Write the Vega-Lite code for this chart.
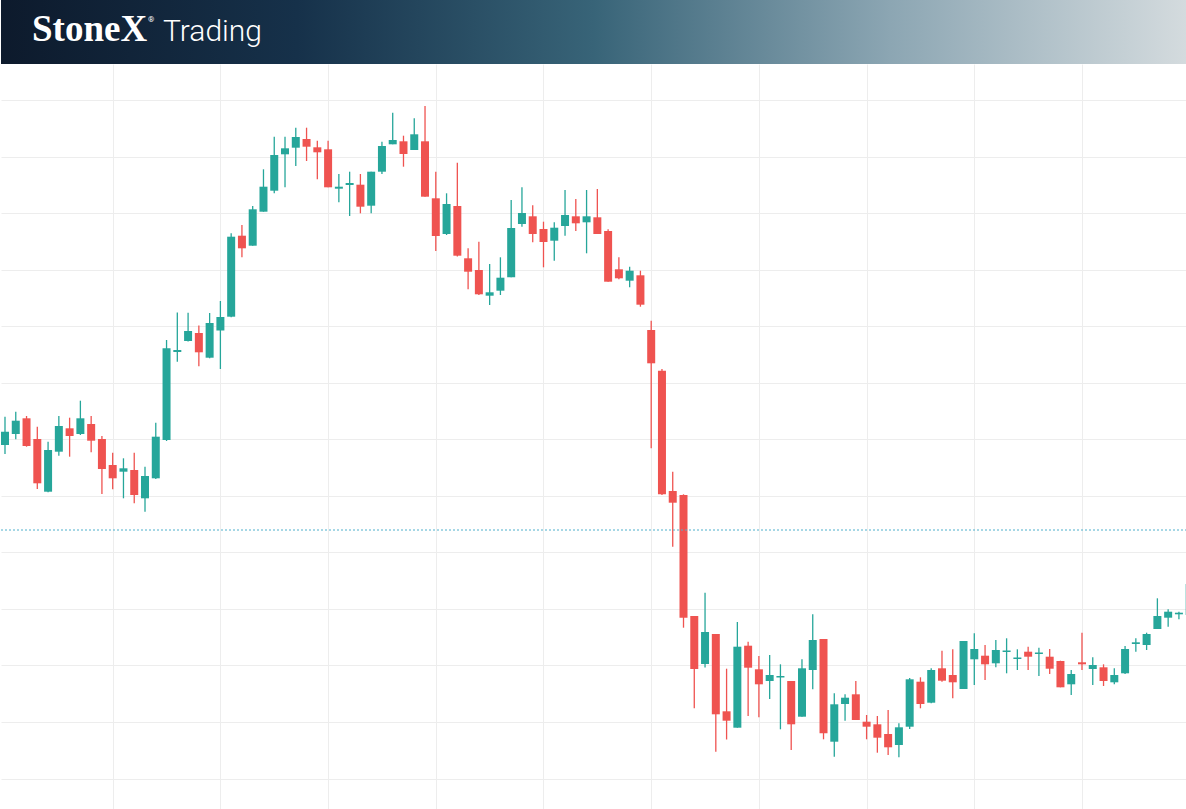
{
  "$schema": "https://vega.github.io/schema/vega-lite/v6.json",
  "padding": 0,
  "spacing": 0,
  "background": "#ffffff",
  "config": {
    "view": {"stroke": null},
    "axis": {"labels": false, "ticks": false, "domain": false, "title": null, "gridColor": "#ededed", "gridWidth": 1}
  },
  "datasets": {
    "candles": [
      {"idx": 0, "open": 1.0555, "high": 1.05833, "low": 1.0546, "close": 1.05683},
      {"idx": 1, "open": 1.0566, "high": 1.05883, "low": 1.05607, "close": 1.05793},
      {"idx": 2, "open": 1.05817, "high": 1.0584, "low": 1.05533, "close": 1.0554},
      {"idx": 3, "open": 1.0561, "high": 1.05733, "low": 1.0511, "close": 1.05167},
      {"idx": 4, "open": 1.05083, "high": 1.05583, "low": 1.05077, "close": 1.055},
      {"idx": 5, "open": 1.05483, "high": 1.0584, "low": 1.05443, "close": 1.0574},
      {"idx": 6, "open": 1.05717, "high": 1.05823, "low": 1.05433, "close": 1.0564},
      {"idx": 7, "open": 1.0566, "high": 1.05993, "low": 1.0565, "close": 1.05817},
      {"idx": 8, "open": 1.0576, "high": 1.0584, "low": 1.05477, "close": 1.05593},
      {"idx": 9, "open": 1.0561, "high": 1.0564, "low": 1.0506, "close": 1.0531},
      {"idx": 10, "open": 1.0535, "high": 1.05473, "low": 1.05107, "close": 1.05217},
      {"idx": 11, "open": 1.05283, "high": 1.05417, "low": 1.05017, "close": 1.05317},
      {"idx": 12, "open": 1.053, "high": 1.05473, "low": 1.04967, "close": 1.0505},
      {"idx": 13, "open": 1.05017, "high": 1.05333, "low": 1.04883, "close": 1.0524},
      {"idx": 14, "open": 1.05217, "high": 1.05773, "low": 1.0521, "close": 1.05633},
      {"idx": 15, "open": 1.056, "high": 1.066, "low": 1.0559, "close": 1.06517},
      {"idx": 16, "open": 1.0648, "high": 1.06875, "low": 1.06383, "close": 1.065},
      {"idx": 17, "open": 1.0659, "high": 1.06873, "low": 1.06585, "close": 1.0669},
      {"idx": 18, "open": 1.0667, "high": 1.06745, "low": 1.06337, "close": 1.06477},
      {"idx": 19, "open": 1.06423, "high": 1.0687, "low": 1.06417, "close": 1.0677},
      {"idx": 20, "open": 1.06695, "high": 1.0699, "low": 1.0631, "close": 1.0683},
      {"idx": 21, "open": 1.06833, "high": 1.07667, "low": 1.06827, "close": 1.07633},
      {"idx": 22, "open": 1.07643, "high": 1.0775, "low": 1.07427, "close": 1.07517},
      {"idx": 23, "open": 1.07543, "high": 1.0794, "low": 1.07543, "close": 1.07907},
      {"idx": 24, "open": 1.07883, "high": 1.08307, "low": 1.07883, "close": 1.08133},
      {"idx": 25, "open": 1.08093, "high": 1.08633, "low": 1.08067, "close": 1.0845},
      {"idx": 26, "open": 1.08457, "high": 1.08633, "low": 1.08127, "close": 1.08517},
      {"idx": 27, "open": 1.08523, "high": 1.08723, "low": 1.0834, "close": 1.0863},
      {"idx": 28, "open": 1.0861, "high": 1.08723, "low": 1.0839, "close": 1.08533},
      {"idx": 29, "open": 1.08527, "high": 1.08593, "low": 1.08207, "close": 1.08477},
      {"idx": 30, "open": 1.08507, "high": 1.08593, "low": 1.08127, "close": 1.08127},
      {"idx": 31, "open": 1.08113, "high": 1.0826, "low": 1.07977, "close": 1.08133},
      {"idx": 32, "open": 1.0815, "high": 1.08283, "low": 1.0784, "close": 1.0817},
      {"idx": 33, "open": 1.08153, "high": 1.0826, "low": 1.07867, "close": 1.07933},
      {"idx": 34, "open": 1.07943, "high": 1.08283, "low": 1.07867, "close": 1.08283},
      {"idx": 35, "open": 1.08283, "high": 1.08583, "low": 1.0826, "close": 1.0854},
      {"idx": 36, "open": 1.08557, "high": 1.08873, "low": 1.08557, "close": 1.086},
      {"idx": 37, "open": 1.08587, "high": 1.08643, "low": 1.08333, "close": 1.0846},
      {"idx": 38, "open": 1.085, "high": 1.08817, "low": 1.085, "close": 1.08657},
      {"idx": 39, "open": 1.08587, "high": 1.0894, "low": 1.08033, "close": 1.08033},
      {"idx": 40, "open": 1.08017, "high": 1.08283, "low": 1.0749, "close": 1.0764},
      {"idx": 41, "open": 1.0766, "high": 1.08067, "low": 1.0765, "close": 1.0796},
      {"idx": 42, "open": 1.0794, "high": 1.08373, "low": 1.07435, "close": 1.07443},
      {"idx": 43, "open": 1.07417, "high": 1.07517, "low": 1.07107, "close": 1.07283},
      {"idx": 44, "open": 1.073, "high": 1.07583, "low": 1.0705, "close": 1.07057},
      {"idx": 45, "open": 1.07043, "high": 1.0736, "low": 1.0695, "close": 1.07077},
      {"idx": 46, "open": 1.07093, "high": 1.07427, "low": 1.0705, "close": 1.07223},
      {"idx": 47, "open": 1.07227, "high": 1.08, "low": 1.07227, "close": 1.0772},
      {"idx": 48, "open": 1.0776, "high": 1.08127, "low": 1.07733, "close": 1.0787},
      {"idx": 49, "open": 1.07837, "high": 1.07947, "low": 1.07577, "close": 1.0766},
      {"idx": 50, "open": 1.0771, "high": 1.07783, "low": 1.07327, "close": 1.0758},
      {"idx": 51, "open": 1.07593, "high": 1.07777, "low": 1.07393, "close": 1.07723},
      {"idx": 52, "open": 1.0774, "high": 1.081, "low": 1.07643, "close": 1.0785},
      {"idx": 53, "open": 1.07837, "high": 1.0801, "low": 1.0769, "close": 1.07767},
      {"idx": 54, "open": 1.07777, "high": 1.081, "low": 1.07467, "close": 1.07837},
      {"idx": 55, "open": 1.07827, "high": 1.0811, "low": 1.0766, "close": 1.0766},
      {"idx": 56, "open": 1.0769, "high": 1.07707, "low": 1.07183, "close": 1.07183},
      {"idx": 57, "open": 1.07307, "high": 1.07427, "low": 1.07207, "close": 1.07217},
      {"idx": 58, "open": 1.07193, "high": 1.07333, "low": 1.07127, "close": 1.07293},
      {"idx": 59, "open": 1.07247, "high": 1.07293, "low": 1.06933, "close": 1.06953},
      {"idx": 60, "open": 1.067, "high": 1.06793, "low": 1.05517, "close": 1.06367},
      {"idx": 61, "open": 1.06293, "high": 1.0631, "low": 1.0505, "close": 1.05057},
      {"idx": 62, "open": 1.0509, "high": 1.05283, "low": 1.04533, "close": 1.04973},
      {"idx": 63, "open": 1.0505, "high": 1.05057, "low": 1.03723, "close": 1.03823},
      {"idx": 64, "open": 1.0384, "high": 1.0384, "low": 1.02917, "close": 1.0331},
      {"idx": 65, "open": 1.0336, "high": 1.04073, "low": 1.03325, "close": 1.0368},
      {"idx": 66, "open": 1.0366, "high": 1.0366, "low": 1.02483, "close": 1.02857},
      {"idx": 67, "open": 1.02887, "high": 1.03313, "low": 1.02605, "close": 1.02793},
      {"idx": 68, "open": 1.02723, "high": 1.0378, "low": 1.02723, "close": 1.03533},
      {"idx": 69, "open": 1.03543, "high": 1.03583, "low": 1.0284, "close": 1.03323},
      {"idx": 70, "open": 1.03307, "high": 1.0344, "low": 1.02827, "close": 1.03157},
      {"idx": 71, "open": 1.0319, "high": 1.0345, "low": 1.0301, "close": 1.0325},
      {"idx": 72, "open": 1.03225, "high": 1.03357, "low": 1.02707, "close": 1.0324},
      {"idx": 73, "open": 1.0319, "high": 1.0319, "low": 1.025, "close": 1.02757},
      {"idx": 74, "open": 1.02833, "high": 1.03407, "low": 1.02833, "close": 1.03317},
      {"idx": 75, "open": 1.033, "high": 1.03857, "low": 1.03107, "close": 1.036},
      {"idx": 76, "open": 1.0361, "high": 1.0361, "low": 1.02607, "close": 1.02667},
      {"idx": 77, "open": 1.02583, "high": 1.03067, "low": 1.02433, "close": 1.02957},
      {"idx": 78, "open": 1.0296, "high": 1.03057, "low": 1.02793, "close": 1.03023},
      {"idx": 79, "open": 1.03057, "high": 1.0319, "low": 1.028, "close": 1.028},
      {"idx": 80, "open": 1.02783, "high": 1.0285, "low": 1.02607, "close": 1.02733},
      {"idx": 81, "open": 1.02757, "high": 1.0284, "low": 1.02473, "close": 1.02623},
      {"idx": 82, "open": 1.0266, "high": 1.029, "low": 1.0245, "close": 1.02527},
      {"idx": 83, "open": 1.0255, "high": 1.02767, "low": 1.02427, "close": 1.02727},
      {"idx": 84, "open": 1.02733, "high": 1.0322, "low": 1.0271, "close": 1.03207},
      {"idx": 85, "open": 1.03183, "high": 1.03227, "low": 1.02917, "close": 1.0296},
      {"idx": 86, "open": 1.02973, "high": 1.03317, "low": 1.02967, "close": 1.033},
      {"idx": 87, "open": 1.03317, "high": 1.03493, "low": 1.03183, "close": 1.03193},
      {"idx": 88, "open": 1.0325, "high": 1.03507, "low": 1.03017, "close": 1.03177},
      {"idx": 89, "open": 1.0311, "high": 1.0359, "low": 1.0311, "close": 1.0359},
      {"idx": 90, "open": 1.03407, "high": 1.03667, "low": 1.0315, "close": 1.0351},
      {"idx": 91, "open": 1.03443, "high": 1.0355, "low": 1.032, "close": 1.03357},
      {"idx": 92, "open": 1.03367, "high": 1.036, "low": 1.03327, "close": 1.035},
      {"idx": 93, "open": 1.0348, "high": 1.03617, "low": 1.03267, "close": 1.03495},
      {"idx": 94, "open": 1.0341, "high": 1.03507, "low": 1.033, "close": 1.03425},
      {"idx": 95, "open": 1.03483, "high": 1.03533, "low": 1.033, "close": 1.03433},
      {"idx": 96, "open": 1.0346, "high": 1.03523, "low": 1.0324, "close": 1.03475},
      {"idx": 97, "open": 1.03433, "high": 1.0351, "low": 1.0326, "close": 1.03313},
      {"idx": 98, "open": 1.0339, "high": 1.03393, "low": 1.03127, "close": 1.03127},
      {"idx": 99, "open": 1.03157, "high": 1.033, "low": 1.0305, "close": 1.0326},
      {"idx": 100, "open": 1.03377, "high": 1.03673, "low": 1.033, "close": 1.03357},
      {"idx": 101, "open": 1.0331, "high": 1.03427, "low": 1.0315, "close": 1.0335},
      {"idx": 102, "open": 1.03327, "high": 1.03357, "low": 1.0314, "close": 1.0319},
      {"idx": 103, "open": 1.03177, "high": 1.03317, "low": 1.03157, "close": 1.0325},
      {"idx": 104, "open": 1.03267, "high": 1.0354, "low": 1.0326, "close": 1.0351},
      {"idx": 105, "open": 1.0356, "high": 1.03617, "low": 1.03483, "close": 1.03577},
      {"idx": 106, "open": 1.0355, "high": 1.03673, "low": 1.035, "close": 1.0366},
      {"idx": 107, "open": 1.0371, "high": 1.04017, "low": 1.0371, "close": 1.0384},
      {"idx": 108, "open": 1.03823, "high": 1.03907, "low": 1.03733, "close": 1.03883},
      {"idx": 109, "open": 1.03857, "high": 1.03883, "low": 1.03807, "close": 1.03873},
      {"idx": 110, "open": 1.0385, "high": 1.0418, "low": 1.0384, "close": 1.0416}
    ]
  },
  "vconcat": [
    {
      "width": 1186,
      "height": 64,
      "data": {"values": [{"brand": "StoneX", "reg": "®", "product": "Trading"}]},
      "layer": [
        {
          "mark": {
            "type": "rect",
            "fill": {
              "gradient": "linear",
              "x1": 0, "y1": 0, "x2": 1, "y2": 0,
              "stops": [
                {"offset": 0, "color": "#0d1a2c"},
                {"offset": 0.25, "color": "#16314a"},
                {"offset": 0.5, "color": "#386478"},
                {"offset": 0.75, "color": "#8ca6b3"},
                {"offset": 1, "color": "#d4dbde"}
              ]
            },
            "strokeWidth": 0
          },
          "encoding": {}
        },
        {
          "mark": {"type": "text", "font": "Liberation Serif", "fontWeight": "bold", "fontSize": 37, "fill": "#ffffff", "align": "left", "baseline": "alphabetic", "dx": -562, "dy": 9},
          "encoding": {"text": {"field": "brand"}}
        },
        {
          "mark": {"type": "text", "font": "Roboto", "fontSize": 8, "fill": "#ffffff", "align": "left", "baseline": "middle", "dx": -446, "dy": -12},
          "encoding": {"text": {"field": "reg"}}
        },
        {
          "mark": {"type": "text", "font": "Roboto", "fontWeight": 300, "fontSize": 30, "fill": "#ffffff", "align": "left", "baseline": "alphabetic", "dx": -431, "dy": 9},
          "encoding": {"text": {"field": "product"}}
        }
      ]
    },
    {
      "width": 1186,
      "height": 745,
      "data": {"name": "candles"},
      "encoding": {
        "x": {
          "field": "idx",
          "type": "quantitative",
          "scale": {"domain": [-0.371, 109.75], "nice": false, "zero": false, "padding": 0},
          "axis": {"values": [10, 20, 30, 40, 50, 60, 70, 80, 90, 100], "grid": true, "title": null}
        }
      },
      "layer": [
        {
          "mark": {"type": "rule", "strokeWidth": 1.3, "clip": true},
          "encoding": {
            "y": {
              "field": "low",
              "type": "quantitative",
              "scale": {"domain": [1.0191, 1.0936], "nice": false, "zero": false},
              "axis": {"values": [1.08995, 1.0843, 1.07865, 1.073, 1.06735, 1.0617, 1.05605, 1.0504, 1.04475, 1.0391, 1.03345, 1.0278, 1.02215], "grid": true, "title": null}
            },
            "y2": {"field": "high"},
            "color": {
              "condition": {"test": "datum.close >= datum.open", "value": "#26a69a"},
              "value": "#ef5350"
            }
          }
        },
        {
          "mark": {"type": "bar", "size": 8, "clip": true},
          "encoding": {
            "y": {
              "field": "open",
              "type": "quantitative",
              "scale": {"domain": [1.0191, 1.0936], "nice": false, "zero": false},
              "axis": {"values": [1.08995, 1.0843, 1.07865, 1.073, 1.06735, 1.0617, 1.05605, 1.0504, 1.04475, 1.0391, 1.03345, 1.0278, 1.02215], "grid": true, "title": null}
            },
            "y2": {"field": "close"},
            "color": {
              "condition": {"test": "datum.close >= datum.open", "value": "#26a69a"},
              "value": "#ef5350"
            }
          }
        },
        {
          "data": {"values": [{"level": 1.047}]},
          "mark": {"type": "rule", "stroke": "#4fb0cc", "strokeWidth": 1, "strokeDash": [2, 2]},
          "encoding": {
            "x": null,
            "y": {
              "field": "level",
              "type": "quantitative",
              "scale": {"domain": [1.0191, 1.0936], "nice": false, "zero": false},
              "axis": {"values": [1.08995, 1.0843, 1.07865, 1.073, 1.06735, 1.0617, 1.05605, 1.0504, 1.04475, 1.0391, 1.03345, 1.0278, 1.02215], "grid": true, "title": null}
            }
          }
        }
      ]
    }
  ]
}
